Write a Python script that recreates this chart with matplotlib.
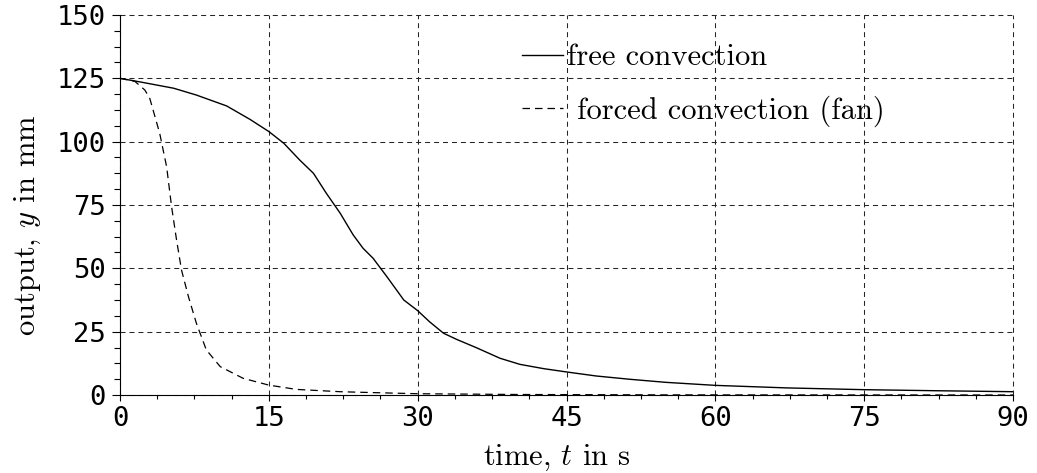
import matplotlib
matplotlib.use("Agg")
import matplotlib.pyplot as plt
from matplotlib.ticker import MultipleLocator

# --- Daten ---
free_t = [0, 2, 5.4, 7.7, 10.75, 13.1, 15, 16.5, 18.1, 19.5, 20.8, 22.2, 23.5, 24.5,
          25.5, 26.9, 28.6, 30, 31.2, 32.6, 33.9, 35.9, 38.3, 40.3, 42.7, 45, 48,
          51.4, 55, 60, 67.2, 75, 82, 90]
free_y = [125, 123.6, 121.1, 118.4, 114.1, 108.8, 104, 99.4, 92.8, 87.5, 79.6, 71.7,
          63.2, 57.9, 54, 46.7, 37.5, 33.3, 28.9, 24.4, 22, 18.7, 14.5, 12.1, 10.4,
          9.1, 7.5, 6.2, 5.0, 3.8, 2.8, 2.1, 1.7, 1.3]

forced_t = [0, 1.5, 2.5, 3.0, 4.0, 4.7, 5.2, 5.7, 6.2, 6.9, 7.7, 8.7, 10.1, 12.4,
            15, 17.8, 22.2, 25, 30, 40, 55, 90]
forced_y = [125, 123.8, 120.4, 117.1, 103.3, 90.1, 74.3, 61.2, 49.3, 38.8, 28.3,
            17.8, 11.2, 6.6, 3.9, 2.2, 1.3, 1.0, 0.5, 0.2, 0.05, 0.0]

x_ticks = [0, 15, 30, 45, 60, 75, 90]
y_ticks = [0, 25, 50, 75, 100, 125, 150]

# --- Stil ---
plt.rcParams['mathtext.fontset'] = 'cm'
plt.rcParams['axes.unicode_minus'] = False
LABEL_FONT = 'cmr10'
TICK_FONT = 'DejaVu Sans Mono'

fig = plt.figure(figsize=(10.37, 4.73), dpi=100)
ax = fig.add_axes([120 / 1037, 1 - 395 / 473, 893 / 1037, 380 / 473])

ax.plot(free_t, free_y, color='black', linewidth=1.0, label=r'free convection')
ax.plot(forced_t, forced_y, color='black', linewidth=0.9, dashes=(6, 4),
        label=r' forced convection (fan)')

ax.set_xlim(0, 90)
ax.set_ylim(0, 150)
ax.set_xticks(x_ticks)
ax.set_yticks(y_ticks)
ax.xaxis.set_minor_locator(MultipleLocator(3.75))
ax.yaxis.set_minor_locator(MultipleLocator(6.25))

for lbl in ax.get_xticklabels() + ax.get_yticklabels():
    lbl.set_fontfamily(TICK_FONT)
    lbl.set_fontsize(19.5)

ax.tick_params(axis='x', which='major', length=4.5, width=0.8, pad=3.5, direction='out')
ax.tick_params(axis='x', which='minor', length=3, width=0.8, direction='out')
ax.tick_params(axis='y', which='major', length=6, width=0.8, pad=4, direction='out')
ax.tick_params(axis='y', which='minor', length=4.5, width=0.8, direction='out')

ax.spines['top'].set_visible(False)
ax.spines['right'].set_visible(False)
ax.spines['left'].set_linewidth(0.8)
ax.spines['bottom'].set_linewidth(0.8)

ax.grid(True, which='major', color='0.15', linewidth=0.75, dashes=(4.8, 3.8))
ax.set_axisbelow(True)
for gl in ax.get_xgridlines() + ax.get_ygridlines():
    gl.set_clip_on(False)

ax.set_xlabel(r'time, $t$ in s', fontfamily=LABEL_FONT, fontsize=22)
ax.set_ylabel(r'output, $y$ in mm', fontfamily=LABEL_FONT, fontsize=22)
ax.xaxis.set_label_coords(0.489, -0.126)
ax.xaxis.label.set_va('top')
ax.yaxis.set_label_coords(-0.086, 0.447)

leg = ax.legend(loc='upper left', bbox_to_anchor=(0.436, 0.956), frameon=False,
                prop={'family': LABEL_FONT, 'size': 22}, handlelength=1.35,
                handletextpad=0.13, labelspacing=0.78, borderaxespad=0)

fig.savefig('out.png', dpi=100)
